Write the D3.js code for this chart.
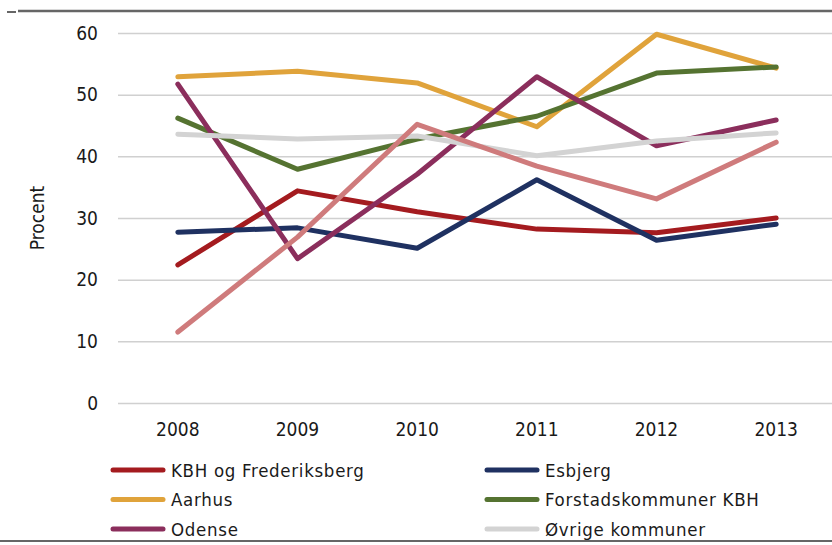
<!DOCTYPE html>
<html>
<head>
<meta charset="utf-8">
<script src="https://cdn.jsdelivr.net/npm/d3@7"></script>
<style>
  body { margin: 0; background: #fff; }
  text { font-family: "DejaVu Sans Condensed", "Liberation Sans Narrow", sans-serif; fill: #1a1a1a; }
</style>
</head>
<body>
<div id="chart"></div>
<script>
const width = 832
const height = 545

const years = ["2008", "2009", "2010", "2011", "2012", "2013"]
const yTicks = [0, 10, 20, 30, 40, 50, 60]

const kbh = [22.4, 34.4, 31.0, 28.2, 27.6, 30.0]
const esbjerg = [27.7, 28.4, 25.1, 36.2, 26.4, 29.0]
const aarhus = [52.9, 53.8, 51.9, 44.8, 59.8, 54.3]
const forstad = [46.2, 37.9, 42.8, 46.5, 53.5, 54.5]
const odense = [51.7, 23.4, 37.1, 52.9, 41.7, 45.9]
const oevrige = [43.6, 42.8, 43.3, 40.1, 42.5, 43.8]
const unnamed = [11.5, 26.9, 45.2, 38.4, 33.1, 42.3]

const series = [
  {name: "KBH og Frederiksberg", values: kbh, color: "#a41b1f", legend: true},
  {name: "Esbjerg", values: esbjerg, color: "#1f3161", legend: true},
  {name: "Aarhus", values: aarhus, color: "#e0a33b", legend: true},
  {name: "Forstadskommuner KBH", values: forstad, color: "#557331", legend: true},
  {name: "Odense", values: odense, color: "#8b2e5c", legend: true},
  {name: "Øvrige kommuner", values: oevrige, color: "#d3d3d3", legend: true},
  {name: "", values: unnamed, color: "#cf7b7c", legend: false}
]

const svg = d3.select("#chart").append("svg").attr("width", width).attr("height", height)

const x = d3.scaleBand().domain(years).range([118, 836]).padding(0)
const y = d3.scaleLinear().domain([0, 60]).range([403, 33])

// frame lines top and bottom
svg.append("line").attr("x1", 18).attr("x2", width).attr("y1", 11).attr("y2", 11)
  .attr("stroke", "#666").attr("stroke-width", 2.5)
svg.append("line").attr("x1", 7).attr("x2", 16).attr("y1", 12).attr("y2", 12)
  .attr("stroke", "#666").attr("stroke-width", 2)
svg.append("line").attr("x1", 0).attr("x2", width).attr("y1", 541).attr("y2", 541)
  .attr("stroke", "#666").attr("stroke-width", 2)

// y axis with gridlines
const yAxis = d3.axisLeft(y).tickValues(yTicks).tickSize(-(width - 118)).tickPadding(20)
const yGroup = svg.append("g").attr("transform", "translate(118,0)").call(yAxis)
yGroup.select(".domain").remove()
yGroup.selectAll(".tick line").attr("stroke", "#d0d0d0").attr("stroke-width", 1.5)
yGroup.selectAll(".tick text").attr("font-size", 19).attr("x", -20)

// x axis
const xAxis = d3.axisBottom(x).tickSize(0).tickPadding(20)
const xGroup = svg.append("g").attr("transform", "translate(0,403)").call(xAxis)
xGroup.select(".domain").remove()
xGroup.selectAll(".tick text").attr("font-size", 19)

svg.append("text")
  .attr("transform", "translate(44,218) rotate(-90)")
  .attr("text-anchor", "middle")
  .attr("font-size", 19)
  .text("Procent")

const line = d3.line()
  .x((d, i) => x(years[i]) + x.bandwidth() / 2)
  .y(d => y(d))

svg.append("g").selectAll("path").data(series).join("path")
  .attr("d", d => line(d.values))
  .attr("fill", "none")
  .attr("stroke", d => d.color)
  .attr("stroke-width", 5)
  .attr("stroke-linecap", "round")
  .attr("stroke-linejoin", "round")

// legend, two columns
const legendItems = series.filter(d => d.legend)
const legend = svg.append("g").selectAll("g").data(legendItems).join("g")
  .attr("transform", (d, i) => `translate(${i % 2 === 0 ? 113 : 487}, ${470 + Math.floor(i / 2) * 29.5})`)
legend.append("line")
  .attr("x1", 0).attr("x2", 50)
  .attr("stroke", d => d.color).attr("stroke-width", 5).attr("stroke-linecap", "round")
legend.append("text")
  .attr("x", 58).attr("y", 6.5)
  .attr("font-size", 18.5)
  .attr("letter-spacing", 0.7)
  .text(d => d.name)
</script>
</body>
</html>
